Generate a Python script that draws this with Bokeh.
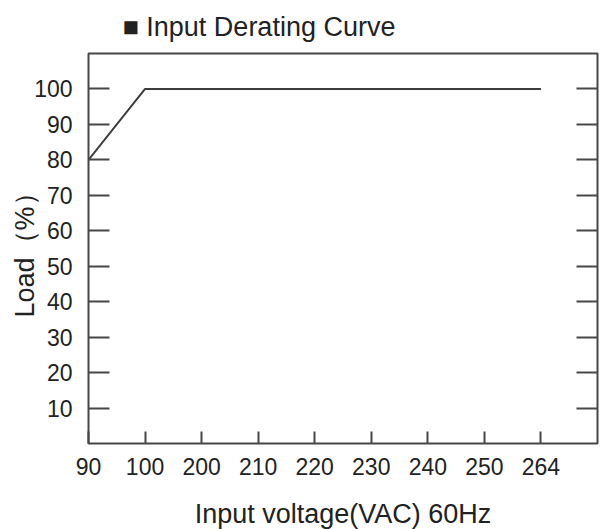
from bokeh.plotting import figure
from bokeh.models import Range1d, FixedTicker, LinearAxis
from bokeh.embed import file_html
from bokeh.resources import INLINE

# ---- data ----
voltage_labels = ["90", "100", "200", "210", "220", "230", "240", "250", "264"]
load_pct = [80, 100, 100, 100, 100, 100, 100, 100, 100]
y_ticks = [10, 20, 30, 40, 50, 60, 70, 80, 90, 100]
chart_title = "■ Input Derating Curve"

x_pos = list(range(len(voltage_labels)))

FONT = "Liberation Sans"
TXT = "#222222"
LINE = "#474747"

p = figure(
    frame_width=509, frame_height=390,
    min_border_left=88, min_border_right=5, min_border_top=53, min_border_bottom=10,
    x_range=Range1d(0, len(voltage_labels)), y_range=Range1d(0, 110),
    output_backend="svg", toolbar_location=None,
    x_axis_label="Input voltage(VAC) 60Hz", y_axis_label="Load（%）",
    title=chart_title,
)
p.background_fill_color = "white"
p.border_fill_color = "white"
p.outline_line_color = LINE
p.outline_line_width = 2
p.grid.visible = False

p.title.text_font = FONT
p.title.text_font_size = "27px"
p.title.text_font_style = "normal"
p.title.text_color = TXT
p.title.align = "left"
p.title.vertical_align = "top"
p.title.offset = 34
p.title.standoff = 19

# bottom axis
xa = p.xaxis[0]
xa.ticker = FixedTicker(ticks=x_pos)
xa.major_label_overrides = {i: lab for i, lab in zip(x_pos, voltage_labels)}
xa.axis_line_color = None
xa.major_tick_in = 12
xa.major_tick_out = 0
xa.major_tick_line_color = LINE
xa.major_tick_line_width = 2
xa.minor_tick_line_color = None
xa.major_label_standoff = 14
xa.major_label_text_font = FONT
xa.major_label_text_font_size = "23px"
xa.major_label_text_color = TXT
xa.axis_label_text_font = FONT
xa.axis_label_text_font_size = "27px"
xa.axis_label_text_font_style = "normal"
xa.axis_label_text_color = TXT
xa.axis_label_standoff = 21

# left axis
ya = p.yaxis[0]
ya.ticker = FixedTicker(ticks=y_ticks)
ya.axis_line_color = None
ya.major_tick_in = 21
ya.major_tick_out = 0
ya.major_tick_line_color = LINE
ya.major_tick_line_width = 2
ya.minor_tick_line_color = None
ya.major_label_standoff = 16
ya.major_label_text_font = FONT
ya.major_label_text_font_size = "23px"
ya.major_label_text_color = TXT
ya.axis_label_text_font = FONT
ya.axis_label_text_font_size = "27px"
ya.axis_label_text_font_style = "normal"
ya.axis_label_text_color = TXT
ya.axis_label_standoff = -9

# right axis: ticks only
ra = LinearAxis(ticker=FixedTicker(ticks=y_ticks))
ra.axis_line_color = None
ra.major_tick_in = 21
ra.major_tick_out = 0
ra.major_tick_line_color = LINE
ra.major_tick_line_width = 2
ra.minor_tick_line_color = None
ra.major_label_text_font_size = "1px"
ra.major_label_text_color = None
ra.major_label_standoff = 0
p.add_layout(ra, "right")

p.line(x_pos, load_pct, line_color="#3c3c3c", line_width=2)

open("out.html", "w").write(file_html(p, INLINE))
